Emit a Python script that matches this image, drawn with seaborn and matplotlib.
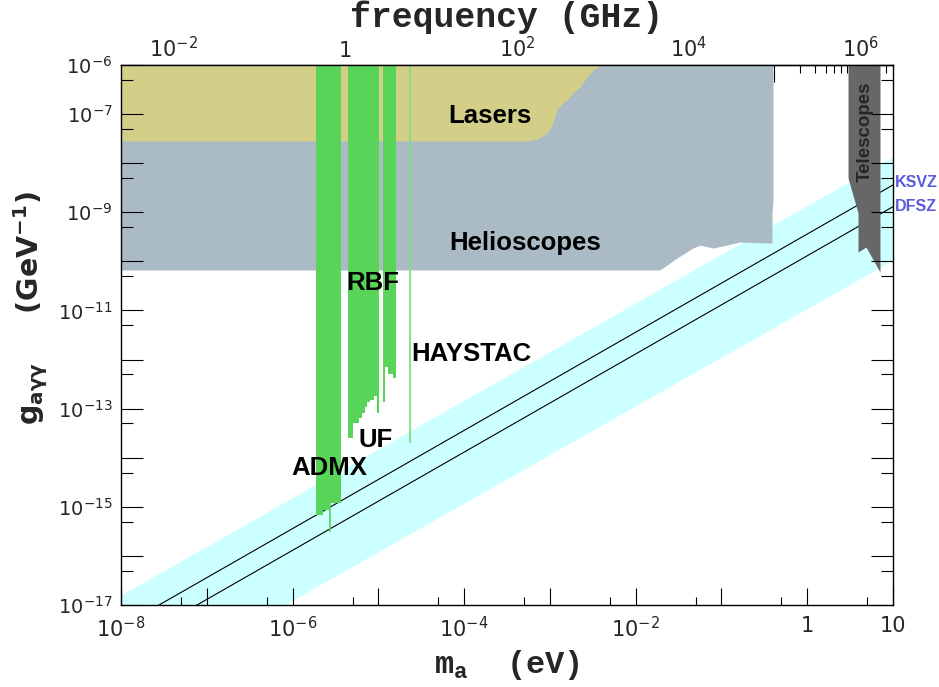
import numpy as np
import seaborn as sns
import matplotlib
matplotlib.use('Agg')
import matplotlib.pyplot as plt
from matplotlib.ticker import LogLocator, FuncFormatter, NullFormatter
from matplotlib.font_manager import FontProperties

# exclusion limits: m_a in eV, g_agg in GeV^-1
lasers_m = [1e-8, 5.4e-4, 7.1e-4, 9.3e-4, 1.09e-3, 1.2e-3, 1.42e-3, 1.58e-3,
            1.86e-3, 2.25e-3, 2.7e-3, 3.2e-3, 3.85e-3]
lasers_g = [2.83e-8, 2.83e-8, 3.1e-8, 4.1e-8, 6.6e-8, 1.2e-7, 1.7e-7, 1.9e-7,
            2.7e-7, 3.56e-7, 5.7e-7, 7.9e-7, 1e-6]

helio_m = [1e-8, 0.0192, 0.0303, 0.0466, 0.0562, 0.0796, 0.116, 0.164, 0.34,
           0.388, 0.389, 0.399]
helio_g = [6.67e-11, 6.67e-11, 1.17e-10, 1.87e-10, 2.15e-10, 1.87e-10, 2.15e-10,
           2.48e-10, 2.37e-10, 2.37e-10, 9.7e-10, 1.8e-9]

admx_m = [1.87e-6, 2.26e-6, 2.73e-6, 3.67e-6]
admx_g = [6.8e-16, 8.6e-16, 1.2e-15, 1.2e-15]
admx_spike_m = 2.73e-6
admx_spike_g = [3.07e-16, 1.2e-15]

uf_m = [4.47e-6, 5.02e-6, 5.96e-6, 6.40e-6, 6.98e-6, 7.43e-6, 8.0e-6, 8.89e-6,
        9.57e-6, 1.02e-5]
uf_g = [2.48e-14, 5.02e-14, 6.35e-14, 8.0e-14, 1.09e-13, 1.38e-13, 1.5e-13,
        1.83e-13, 8.0e-14, 8.0e-14]

rbf_m = [1.13e-5, 1.19e-5, 1.31e-5, 1.49e-5, 1.61e-5]
rbf_g = [1.38e-13, 7.15e-13, 5.07e-13, 4.14e-13, 4.14e-13]

haystac_m = 2.34e-5
haystac_g = [2.0e-14, 1e-6]

tel_m = [2.99, 3.91, 3.91, 4.84, 7.05]
tel_g = [4.99e-9, 9.66e-10, 1.55e-10, 1.96e-10, 6.07e-11]

band_m = [1e-8, 10]
band_hi = [1.6e-17, 1.35e-8]
band_lo = [1.3e-19, 1.07e-10]

ksvz_m = [1e-8, 10]
ksvz_g = [3.6e-18, 3.6e-9]
dfsz_m = [1e-8, 10]
dfsz_g = [1.3e-18, 1.3e-9]

mass_label_exp = [-8, -6, -4, -2, 0, 1]
freq_label_exp = [-2, 0, 2, 4, 6]
g_label_exp = [-6, -7, -9, -11, -13, -15, -17]

EV_PER_GHZ = 4.1357e-6
G_TOP = 1e-6


def ev2ghz(m):
    return np.asarray(m) / EV_PER_GHZ


def ghz2ev(f):
    return np.asarray(f) * EV_PER_GHZ


def exp_formatter(keep):
    def f(v, pos):
        if v <= 0:
            return ''
        lv = np.log10(v)
        e = int(round(lv))
        if abs(lv - e) > 1e-6 or e not in keep:
            return ''
        if e == 0:
            return '1'
        if e == 1:
            return '10'
        return f'$10^{{{e}}}$'
    return FuncFormatter(f)


sns.set_theme(style='ticks')
plt.rcParams['font.family'] = ['DejaVu Sans']
plt.rcParams['mathtext.rm'] = 'Liberation Mono:bold'
plt.rcParams['mathtext.it'] = 'Liberation Mono:bold'
plt.rcParams['mathtext.bf'] = 'Liberation Mono:bold'

fig = plt.figure(figsize=(9.39, 6.87), dpi=100)
ax = fig.add_axes([121 / 939, 1 - 605 / 687, 772 / 939, 540 / 687])
ax.set_xscale('log')
ax.set_yscale('log')
ax.set_xlim(1e-8, 10)
ax.set_ylim(1e-17, 1e-6)

green = '#58d558'
ax.fill_between(band_m, band_lo, band_hi, color='#ccffff', lw=0, zorder=1.0)
ax.fill_between(helio_m, helio_g, G_TOP, color='#abbbc6', lw=0, zorder=1.1)
ax.fill_between(lasers_m, lasers_g, G_TOP, color='#d3cf88', lw=0, zorder=1.2)
sns.lineplot(x=ksvz_m, y=ksvz_g, color='black', lw=0.8, ax=ax, zorder=1.3)
sns.lineplot(x=dfsz_m, y=dfsz_g, color='black', lw=0.8, ax=ax, zorder=1.3)
for hm, hg in [(admx_m, admx_g), (uf_m, uf_g), (rbf_m, rbf_g)]:
    ax.fill_between(hm, hg, G_TOP, step='post', color=green, lw=0, zorder=1.4)
ax.vlines(admx_spike_m, *admx_spike_g, color=green, lw=1.2, zorder=1.4)
ax.vlines(haystac_m, *haystac_g, color='#7fe07f', lw=1.3, zorder=1.4)
ax.fill_between(tel_m, tel_g, G_TOP, color='#676767', lw=0, zorder=2.0)

lab = dict(fontfamily='Liberation Sans', fontweight='bold', fontsize=18.5,
           ha='center', va='center', color='black', zorder=3)
ax.text(2.0e-4, 9.1e-8, 'Lasers', **lab)
ax.text(5.1e-4, 2.37e-10, 'Helioscopes', **lab)
ax.text(8.55e-6, 3.7e-11, 'RBF', **lab)
ax.text(1.22e-4, 1.3e-12, 'HAYSTAC', **lab)
ax.text(9.4e-6, 2.3e-14, 'UF', **lab)
ax.text(2.66e-6, 6.2e-15, 'ADMX', **lab)
ax.text(4.71, 4.3e-8, 'Telescopes', fontfamily='Liberation Sans', fontweight='bold',
        fontsize=13.5, rotation=90, ha='center', va='center', zorder=3)
trans = ax.get_yaxis_transform()
ax.text(1.002, 4.1e-9, 'KSVZ', transform=trans, fontfamily='Liberation Sans',
        fontweight='bold', fontsize=11.5, color='#5a5adc', ha='left', va='center',
        clip_on=False)
ax.text(1.002, 1.34e-9, 'DFSZ', transform=trans, fontfamily='Liberation Sans',
        fontweight='bold', fontsize=11.5, color='#5a5adc', ha='left', va='center',
        clip_on=False)

# ticks
ax.xaxis.set_major_locator(LogLocator(base=10, numticks=30))
ax.xaxis.set_minor_locator(LogLocator(base=10, subs=[5.0], numticks=30))
ax.xaxis.set_major_formatter(exp_formatter(mass_label_exp))
ax.xaxis.set_minor_formatter(NullFormatter())
ax.yaxis.set_major_locator(LogLocator(base=10, numticks=30))
ax.yaxis.set_minor_locator(LogLocator(base=10, subs=[5.0], numticks=30))
ax.yaxis.set_major_formatter(exp_formatter(g_label_exp))
ax.yaxis.set_minor_formatter(NullFormatter())
ax.tick_params(axis='x', which='both', direction='in', top=False, bottom=True,
               labelsize=15, pad=8, width=0.8, color='black')
ax.tick_params(axis='x', which='major', length=12)
ax.tick_params(axis='x', which='minor', length=6)
ax.tick_params(axis='y', which='both', direction='in', left=True, right=True,
               labelsize=14, pad=6, width=0.8, color='black')
ax.tick_params(axis='y', which='major', length=16)
ax.tick_params(axis='y', which='minor', length=8.5)
ax.set_axisbelow(False)
for s in ax.spines.values():
    s.set_linewidth(1.0)
    s.set_color('black')

secax = ax.secondary_xaxis('top', functions=(ev2ghz, ghz2ev))
secax.xaxis.set_major_locator(LogLocator(base=10, numticks=30))
secax.xaxis.set_minor_locator(LogLocator(base=10, subs=np.arange(2, 10), numticks=30))
secax.xaxis.set_major_formatter(exp_formatter(freq_label_exp))
secax.xaxis.set_minor_formatter(NullFormatter())
secax.tick_params(axis='x', which='both', direction='in', labelsize=15, pad=3,
                  width=0.8, color='black')
secax.tick_params(axis='x', which='major', length=12)
secax.tick_params(axis='x', which='minor', length=6)
secax.spines['top'].set_linewidth(1.0)

mono = FontProperties(family='Liberation Mono', weight='bold', size=23,
                      math_fontfamily='custom')
fig.text(507 / 939, 1 - 665 / 687, r'$\mathdefault{m}_{\mathdefault{a}}$  (eV)',
         fontproperties=mono, ha='center', va='center')
fig.text(507 / 939, 1 - 17 / 687, 'frequency (GHz)', fontfamily='Liberation Mono',
         fontweight='bold', fontsize=25, ha='center', va='center')
sans = FontProperties(family='DejaVu Sans', weight='bold', size=20.5,
                      math_fontfamily='dejavusans')
fig.text(31 / 939, 1 - 308 / 687,
         r'$\mathdefault{g}_{\mathdefault{a\gamma\gamma}}$     (GeV$^{\mathdefault{-1}}$)',
         fontproperties=sans, rotation=90, ha='center', va='center')

fig.savefig('out.png', dpi=100)
